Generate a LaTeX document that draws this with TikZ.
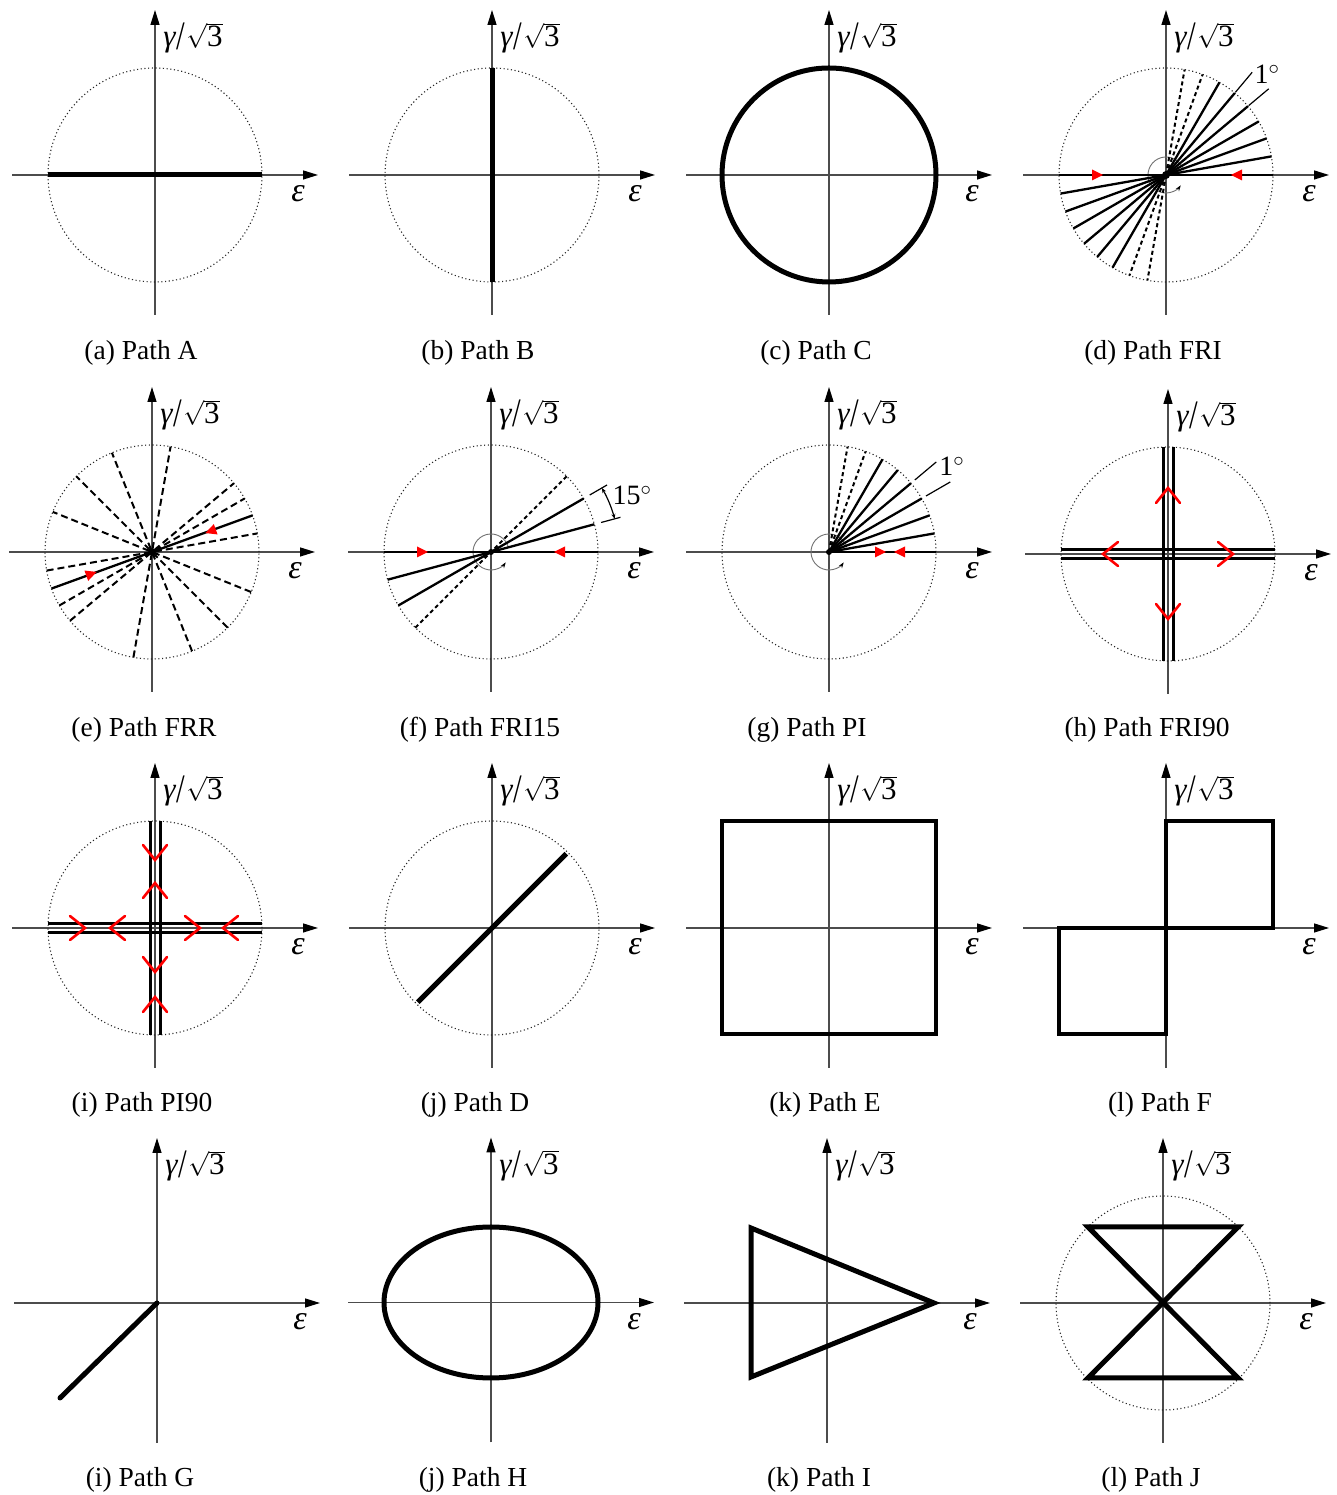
\documentclass[tikz,border=0pt]{standalone}
\usepackage{fontspec}
\setmainfont{Liberation Serif}
\usetikzlibrary{arrows.meta}
\tikzset{
  axisline/.style={black!70, line width=1.3pt, -{Triangle[length=15pt,width=9pt,color=black]}},
  refcircle/.style={draw=black!85, line width=1.1pt, dash pattern=on 1.1pt off 2.6pt},
  thickpath/.style={line width=5pt, line join=miter},
  midpath/.style={line width=2.8pt},
  fan/.style={line width=2.3pt},
  fandash/.style={line width=2pt, dash pattern=on 4pt off 3pt},
  fandashlong/.style={line width=2pt, dash pattern=on 7pt off 4pt},
  leader/.style={line width=1.2pt},
  turnarrow/.style={black!55, line width=0.9pt, -{Stealth[length=6pt,width=4pt,color=black]}},
  chevron/.style={red, line width=2.6pt, line cap=round, line join=miter},
  bandline/.style={line width=3pt},
  axlabel/.style={inner sep=0pt, font=\fontsize{31}{37}\selectfont},
  captext/.style={inner sep=0pt, font=\fontsize{27.5}{33}\selectfont},
  anglab/.style={inner sep=0pt, font=\fontsize{28}{34}\selectfont},
}
\newcommand\panelaxes[1]{%
  \draw[axisline] (-143,0) -- (163,0);
  \draw[axisline] (0,-140) -- (0,165);
  \node[axlabel] (#1-g) at (38,137) {{\itshape γ}\hspace{1pt}\raisebox{-3pt}{\scalebox{1}[1.3]{/}}\hspace{1pt}$\sqrt{\hbox{3}}$};
  \node[axlabel] (#1-e) at (143,-19) {\fontsize{34}{40}\selectfont\itshape ε};
}
\newcommand\rtri[3]{\fill[red, shift={(#1,#2)}, rotate=#3] (6,0) -- (-5,5.5) -- (-5,-5.5) -- cycle;}
\newcommand\chev[3]{\draw[chevron, shift={(#1,#2)}, rotate=#3] (-15,12) -- (0,0) -- (-15,-12);}
\newcommand\turnarc{\draw[turnarrow] (15:18) arc[start angle=15, end angle=325, radius=18];}
\newcommand\bands{%
  \draw[bandline] (-107,4.8) -- (107,4.8);
  \draw[bandline] (-107,-4.8) -- (107,-4.8);
  \draw[bandline] (-5,-107) -- (-5,107);
  \draw[bandline] (5,-107) -- (5,107);
}
\begin{document}
\begin{tikzpicture}[x=1pt,y=1pt]
\useasboundingbox (0,0) rectangle (1336,1495);
\fill[white] (0,0) rectangle (1336,1495);

% ---------------- Row 1 ----------------
\begin{scope}[shift={(155,1320)}]
  \coordinate (pa) at (0,0);
  \panelaxes{pa}
  \draw[refcircle] (pa) circle[radius=107];
  \draw[thickpath] (-107,0) -- (107,0);
\end{scope}
\node[captext] (capa) at (141,1142) {(a) Path A};

\begin{scope}[shift={(492,1320)}]
  \coordinate (pb) at (0,0);
  \panelaxes{pb}
  \draw[refcircle] (pb) circle[radius=107];
  \draw[thickpath] (0,-107) -- (0,107);
\end{scope}
\node[captext] (capb) at (478,1142) {(b) Path B};

\begin{scope}[shift={(829,1320)}]
  \coordinate (pc) at (0,0);
  \panelaxes{pc}
  \draw[thickpath] (pc) circle[radius=107];
\end{scope}
\node[captext] (capc) at (816,1142) {(c) Path C};

\begin{scope}[shift={(1166,1320)}]
  \coordinate (pd) at (0,0);
  \panelaxes{pd}
  \draw[refcircle] (pd) circle[radius=107];
  \turnarc
  \draw[midpath] (-107,0) -- (107,0);
  \foreach \a in {10,20,...,60} {\draw[fan] (0,0) -- (\a:107); \draw[fan] (0,0) -- (\a+180:107);}
  \foreach \a in {70,80} {\draw[fandash] (0,0) -- (\a:107); \draw[fandash] (0,0) -- (\a+180:107);}
  \fill (0,0) circle[radius=4];
  \rtri{-69}{0}{0}
  \rtri{71}{0}{180}
  \draw[leader] (40:108) -- (40:134);
  \draw[leader] (50:108) -- (50:134);
  \node[anglab] (pd-deg) at (45:143) {1$^\circ$};
\end{scope}
\node[captext] (capd) at (1153,1142) {(d) Path FRI};

% ---------------- Row 2 ----------------
\begin{scope}[shift={(152,943)}]
  \coordinate (pe) at (0,0);
  \panelaxes{pe}
  \draw[refcircle] (pe) circle[radius=107];
  \foreach \a in {10,30,40,80,112,135,158} {\draw[fandashlong] (\a+180:107) -- (\a:107);}
  \draw[fan] (200:107) -- (20:107);
  \fill (0,0) circle[radius=3.5];
  \rtri{59}{21}{200}
  \rtri{-61}{-22}{20}
\end{scope}
\node[captext] (cape) at (144,765) {(e) Path FRR};

\begin{scope}[shift={(491,943)}]
  \coordinate (pf) at (0,0);
  \panelaxes{pf}
  \draw[refcircle] (pf) circle[radius=107];
  \turnarc
  \draw[midpath] (-107,0) -- (107,0);
  \foreach \a in {15,30} {\draw[fan] (0,0) -- (\a:107); \draw[fan] (0,0) -- (\a+180:107);}
  \draw[fandash] (225:107) -- (45:107);
  \fill (0,0) circle[radius=3];
  \rtri{-69}{0}{0}
  \rtri{69}{0}{180}
  \draw[leader] (15:114) -- (15:134);
  \draw[leader] (30:114) -- (30:134);
  \draw[leader, {Stealth[length=5pt,width=4pt]}-{Stealth[length=5pt,width=4pt]}] (15:128) arc[start angle=15, end angle=30, radius=128];
  \node[anglab] (pf-deg) at (22:152) {15$^\circ$};
\end{scope}
\node[captext] (capf) at (480,765) {(f) Path FRI15};

\begin{scope}[shift={(829,943)}]
  \coordinate (pg) at (0,0);
  \panelaxes{pg}
  \draw[refcircle] (pg) circle[radius=107];
  \turnarc
  \draw[midpath] (0,0) -- (107,0);
  \foreach \a in {10,20,...,60} {\draw[fan] (0,0) -- (\a:107);}
  \foreach \a in {70,80} {\draw[fandash] (0,0) -- (\a:107);}
  \fill (0,0) circle[radius=3];
  \rtri{51}{0}{0}
  \rtri{71}{0}{180}
  \draw[leader] (30:112) -- (30:140);
  \draw[leader] (40:112) -- (40:140);
  \node[anglab] (pg-deg) at (35:150) {1$^\circ$};
\end{scope}
\node[captext] (capg) at (807,765) {(g) Path PI};

\begin{scope}[shift={(1168,941)}]
  \coordinate (ph) at (0,0);
  \panelaxes{ph}
  \draw[refcircle] (ph) circle[radius=107];
  \bands
  \chev{-65}{0}{180}
  \chev{65}{0}{0}
  \chev{0}{66}{90}
  \chev{0}{-65}{270}
\end{scope}
\node[captext] (caph) at (1147,765) {(h) Path FRI90};

% ---------------- Row 3 ----------------
\begin{scope}[shift={(155,567)}]
  \coordinate (pi) at (0,0);
  \panelaxes{pi}
  \draw[refcircle] (pi) circle[radius=107];
  \bands
  \chev{-70}{0}{0}
  \chev{-45}{0}{180}
  \chev{45}{0}{0}
  \chev{68}{0}{180}
  \chev{0}{68}{270}
  \chev{0}{45}{90}
  \chev{0}{-44}{270}
  \chev{0}{-69}{90}
\end{scope}
\node[captext] (capi) at (142,390) {(i) Path PI90};

\begin{scope}[shift={(492,567)}]
  \coordinate (pj) at (0,0);
  \panelaxes{pj}
  \draw[refcircle] (pj) circle[radius=107];
  \draw[thickpath] (225:105) -- (45:105);
\end{scope}
\node[captext] (capj) at (475,390) {(j) Path D};

\begin{scope}[shift={(829,567)}]
  \coordinate (pk) at (0,0);
  \panelaxes{pk}
  \draw[thickpath, line width=4.5pt] (-107,-106) rectangle (107,107);
\end{scope}
\node[captext] (capk) at (825,390) {(k) Path E};

\begin{scope}[shift={(1166,567)}]
  \coordinate (pl) at (0,0);
  \panelaxes{pl}
  \draw[thickpath, line width=4.5pt] (0,-106) -- (0,107) -- (107,107) -- (107,0) -- (-107,0) -- (-107,-106) -- cycle;
\end{scope}
\node[captext] (capl) at (1160,390) {(l) Path F};

% ---------------- Row 4 ----------------
\begin{scope}[shift={(157,192)}]
  \coordinate (pG) at (0,0);
  \panelaxes{pG}
  \draw[thickpath, line cap=round] (0,0) -- (-97,-95);
\end{scope}
\node[captext] (capG) at (140,15) {(i) Path G};

\begin{scope}[shift={(491,192.5)}]
  \coordinate (pH) at (0,0);
  \panelaxes{pH}
  \draw[thickpath] (pH) ellipse[x radius=107, y radius=75.5];
\end{scope}
\node[captext] (capH) at (473,15) {(j) Path H};

\begin{scope}[shift={(827,192)}]
  \coordinate (pI) at (0,0);
  \panelaxes{pI}
  \draw[thickpath] (-76,75) -- (107,0) -- (-76,-74) -- cycle;
\end{scope}
\node[captext] (capI) at (819,15) {(k) Path I};

\begin{scope}[shift={(1163,192)}]
  \coordinate (pJ) at (0,0);
  \panelaxes{pJ}
  \draw[refcircle] (pJ) circle[radius=107];
  \draw[thickpath] (-75,76) -- (75,76) -- (-75,-75) -- (75,-75) -- cycle;
\end{scope}
\node[captext] (capJ) at (1151,15) {(l) Path J};

\end{tikzpicture}
\end{document}
